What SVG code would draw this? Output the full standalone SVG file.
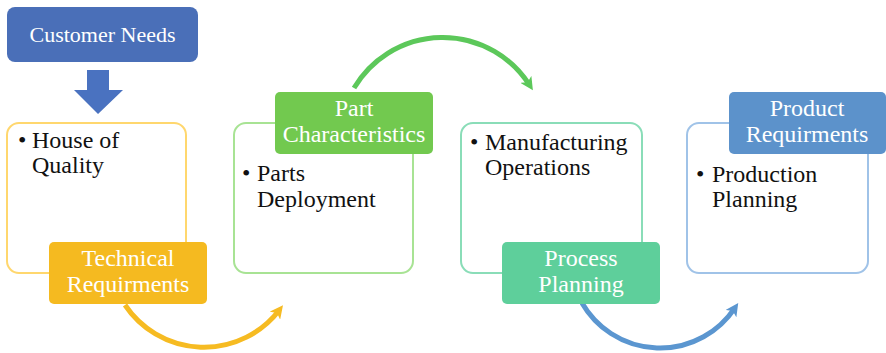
<svg xmlns="http://www.w3.org/2000/svg" width="886" height="353" viewBox="0 0 886 353">
<defs>
<style>
.lbl{font-family:"Liberation Serif","Times New Roman",serif;font-size:24px;fill:#ffffff;text-anchor:middle}
.txt{font-family:"Liberation Serif","Times New Roman",serif;font-size:24px;fill:#111111}
.outline{fill:#ffffff;stroke-width:2}
.arc{fill:none;stroke-width:5}
</style>
<marker id="hY" viewBox="0 0 12 12" refX="6" refY="6" markerWidth="13" markerHeight="13" markerUnits="userSpaceOnUse" orient="auto"><path d="M0,0 L12,6 L0,12 L3,6 z" fill="#F6BB22"/></marker>
<marker id="hG" viewBox="0 0 12 12" refX="6" refY="6" markerWidth="13" markerHeight="13" markerUnits="userSpaceOnUse" orient="auto"><path d="M0,0 L12,6 L0,12 L3,6 z" fill="#5CC85A"/></marker>
<marker id="hB" viewBox="0 0 12 12" refX="6" refY="6" markerWidth="13" markerHeight="13" markerUnits="userSpaceOnUse" orient="auto"><path d="M0,0 L12,6 L0,12 L3,6 z" fill="#5B96D0"/></marker>
</defs>
<rect width="886" height="353" fill="#ffffff"/>

<g id="connectors">
<path d="M87,70 H109 V90 H123 L98,114 L74,90 H87 Z" fill="#4A72C0"/>
<path class="arc" d="M125,305 A95,95 0 0 0 279,310.5" stroke="#F6BB22" marker-end="url(#hY)"/>
<path class="arc" d="M354,88 A103,103 0 0 1 529.4,84.9" stroke="#5CC85A" marker-end="url(#hG)"/>
<path class="arc" d="M582,303 A90,90 0 0 0 734.6,308.3" stroke="#5B96D0" marker-end="url(#hB)"/>
</g>

<g id="customer-needs">
<rect x="7" y="7" width="191" height="55" rx="8" fill="#4A6FB8"/>
<text class="lbl" x="102.5" y="42" style="font-size:22px">Customer Needs</text>
</g>

<g id="house-of-quality">
<rect class="outline" x="7" y="123" width="179" height="150" rx="12" stroke="#FFD76E"/>
<text class="txt" x="18" y="148">•</text>
<text class="txt" x="32" y="148">House of</text>
<text class="txt" x="32" y="173">Quality</text>
</g>
<g id="technical-requirments">
<rect x="49" y="242" width="158" height="62" rx="5" fill="#F5BA20"/>
<text class="lbl" x="128" y="266">Technical</text>
<text class="lbl" x="128" y="292">Requirments</text>
</g>

<g id="parts-deployment">
<rect class="outline" x="234" y="123" width="179" height="150" rx="12" stroke="#A8E394"/>
<text class="txt" x="242" y="181">•</text>
<text class="txt" x="257" y="181">Parts</text>
<text class="txt" x="257" y="207">Deployment</text>
</g>
<g id="part-characteristics">
<rect x="275" y="92" width="158" height="62" rx="5" fill="#72C94F"/>
<text class="lbl" x="354" y="116">Part</text>
<text class="lbl" x="354" y="142">Characteristics</text>
</g>

<g id="manufacturing-operations">
<rect class="outline" x="461" y="123" width="181" height="150" rx="12" stroke="#8ADDB8"/>
<text class="txt" x="470" y="150">•</text>
<text class="txt" x="485" y="150">Manufacturing</text>
<text class="txt" x="485" y="175">Operations</text>
</g>
<g id="process-planning">
<rect x="502" y="242" width="158" height="62" rx="5" fill="#5ECF9B"/>
<text class="lbl" x="581" y="266">Process</text>
<text class="lbl" x="581" y="292">Planning</text>
</g>

<g id="production-planning">
<rect class="outline" x="687" y="123" width="181" height="150" rx="12" stroke="#A0C3E8"/>
<text class="txt" x="696" y="182">•</text>
<text class="txt" x="712" y="182">Production</text>
<text class="txt" x="712" y="207">Planning</text>
</g>
<g id="product-requirments">
<rect x="729" y="92" width="157" height="62" rx="5" fill="#5C92CB"/>
<text class="lbl" x="807" y="116">Product</text>
<text class="lbl" x="807" y="142">Requirments</text>
</g>
</svg>
